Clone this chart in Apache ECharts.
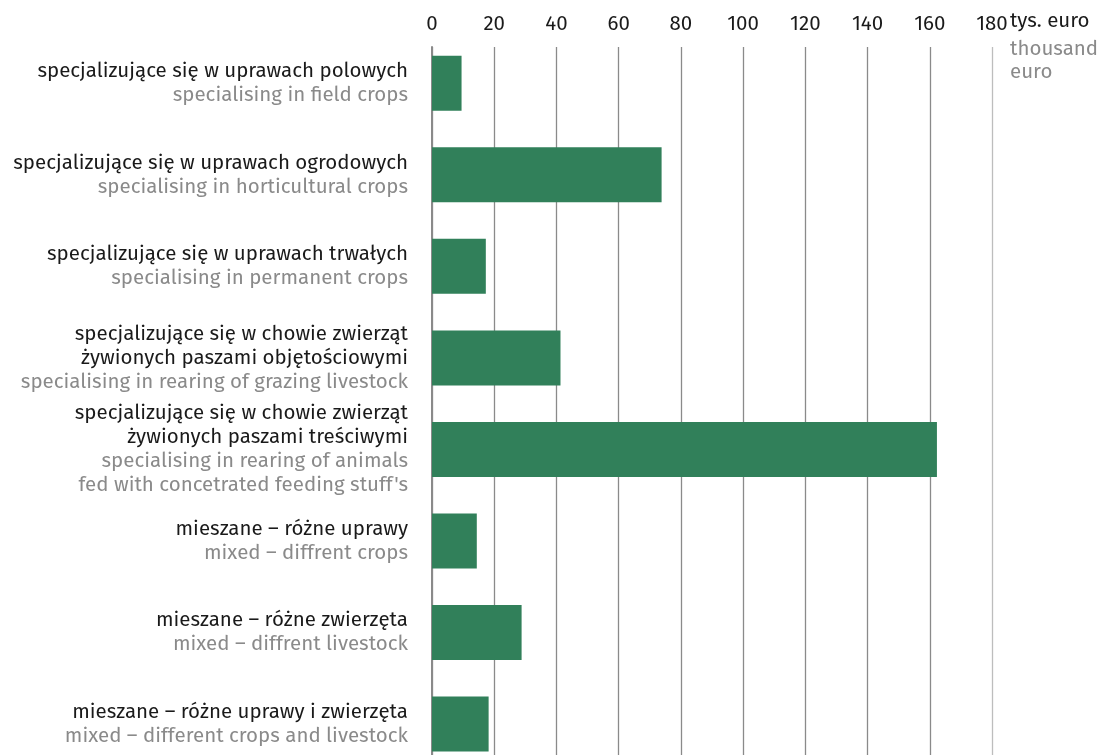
<!DOCTYPE html>
<html><head><meta charset="utf-8">
<script src="https://cdn.jsdelivr.net/npm/echarts@6/dist/echarts.min.js"></script>
<style>html,body{margin:0;padding:0;background:#fff}#c{width:1103px;height:755px}</style>
</head><body><div id="c"></div>
<script>
const categoriesPL = [
  'specjalizujące się w uprawach polowych',
  'specjalizujące się w uprawach ogrodowych',
  'specjalizujące się w uprawach trwałych',
  'specjalizujące się w chowie zwierząt\nżywionych paszami objętościowymi',
  'specjalizujące się w chowie zwierząt\nżywionych paszami treściwymi',
  'mieszane – różne uprawy',
  'mieszane – różne zwierzęta',
  'mieszane – różne uprawy i zwierzęta'
];
const categoriesEN = [
  'specialising in field crops',
  'specialising in horticultural crops',
  'specialising in permanent crops',
  'specialising in rearing of grazing livestock',
  'specialising in rearing of animals\nfed with concetrated feeding stuff\'s',
  'mixed – diffrent crops',
  'mixed – diffrent livestock',
  'mixed – different crops and livestock'
];
const values = [9.5, 73.8, 17.3, 41.3, 162.3, 14.4, 28.8, 18.2];
const xTicks = [0, 20, 40, 60, 80, 100, 120, 140, 160, 180];
const unitPL = 'tys. euro';
const unitEN = 'thousand\neuro';

const FONT = "'Fira Sans','Noto Sans',sans-serif";
const DARK = '#1a1a1a', GREY = '#8a8a8a', GREEN = '#31805a';
const FS = 20.5;
const catKeys = categoriesPL.map((_, i) => String(i));
const xMin = xTicks[0], xMax = xTicks[xTicks.length - 1], xStep = xTicks[1] - xTicks[0];
const splitColors = xTicks.map((t, i) => i === xTicks.length - 1 ? '#bdbdbd' : '#8a8a8a');

function richLines(text, style) {
  return text.split('\n').map(l => '{' + style + '|' + l + '}').join('\n');
}

const chart = echarts.init(document.getElementById('c'), null, {renderer: 'canvas'});
chart.setOption({
  animation: false,
  backgroundColor: '#fff',
  textStyle: {fontFamily: FONT},
  grid: [
    {left: 432, right: 111, top: 47, height: 708, outerBoundsMode: 'none', containLabel: false},
    {left: 432, right: 111, top: 37.5, height: 732.3, outerBoundsMode: 'none', containLabel: false}
  ],
  xAxis: [
    {
      gridIndex: 0, type: 'value', position: 'top', min: xMin, max: xMax, interval: xStep,
      axisLine: {show: false}, axisTick: {show: false},
      axisLabel: {show: true, color: DARK, fontSize: FS, fontFamily: FONT, margin: 12,
        formatter: v => xTicks.includes(v) ? String(v) : ''},
      splitLine: {show: true, lineStyle: {color: splitColors, width: 1.3}}
    },
    {gridIndex: 1, type: 'value', min: xMin, max: xMax, show: false}
  ],
  yAxis: [
    {gridIndex: 0, type: 'value', min: 0, max: 1, axisLabel: {show: false}, axisTick: {show: false},
      splitLine: {show: false}, axisLine: {show: true, lineStyle: {color: '#8a8a8a', width: 2}}},
    {
      gridIndex: 1, type: 'category', inverse: true, data: catKeys,
      axisLine: {show: false}, axisTick: {show: false},
      axisLabel: {
        margin: 24, align: 'right',
        formatter: k => {
          const i = +k;
          return richLines(categoriesPL[i], 'a') + '\n' + richLines(categoriesEN[i], 'b');
        },
        rich: {
          a: {color: DARK, fontSize: FS, lineHeight: 24, fontFamily: FONT, align: 'right'},
          b: {color: GREY, fontSize: FS, lineHeight: 24, fontFamily: FONT, align: 'right'}
        }
      }
    }
  ],
  series: [{
    type: 'bar', xAxisIndex: 1, yAxisIndex: 1, data: values, barWidth: 55,
    itemStyle: {color: GREEN}, z: 3
  }],
  graphic: [
    {type: 'text', left: 1010, top: 11, style: {text: unitPL, fill: DARK, font: FS + 'px ' + FONT}},
    {type: 'text', left: 1010, top: 38, style: {text: unitEN, fill: GREY, font: FS + 'px ' + FONT, lineHeight: 23}}
  ]
});
</script></body></html>
